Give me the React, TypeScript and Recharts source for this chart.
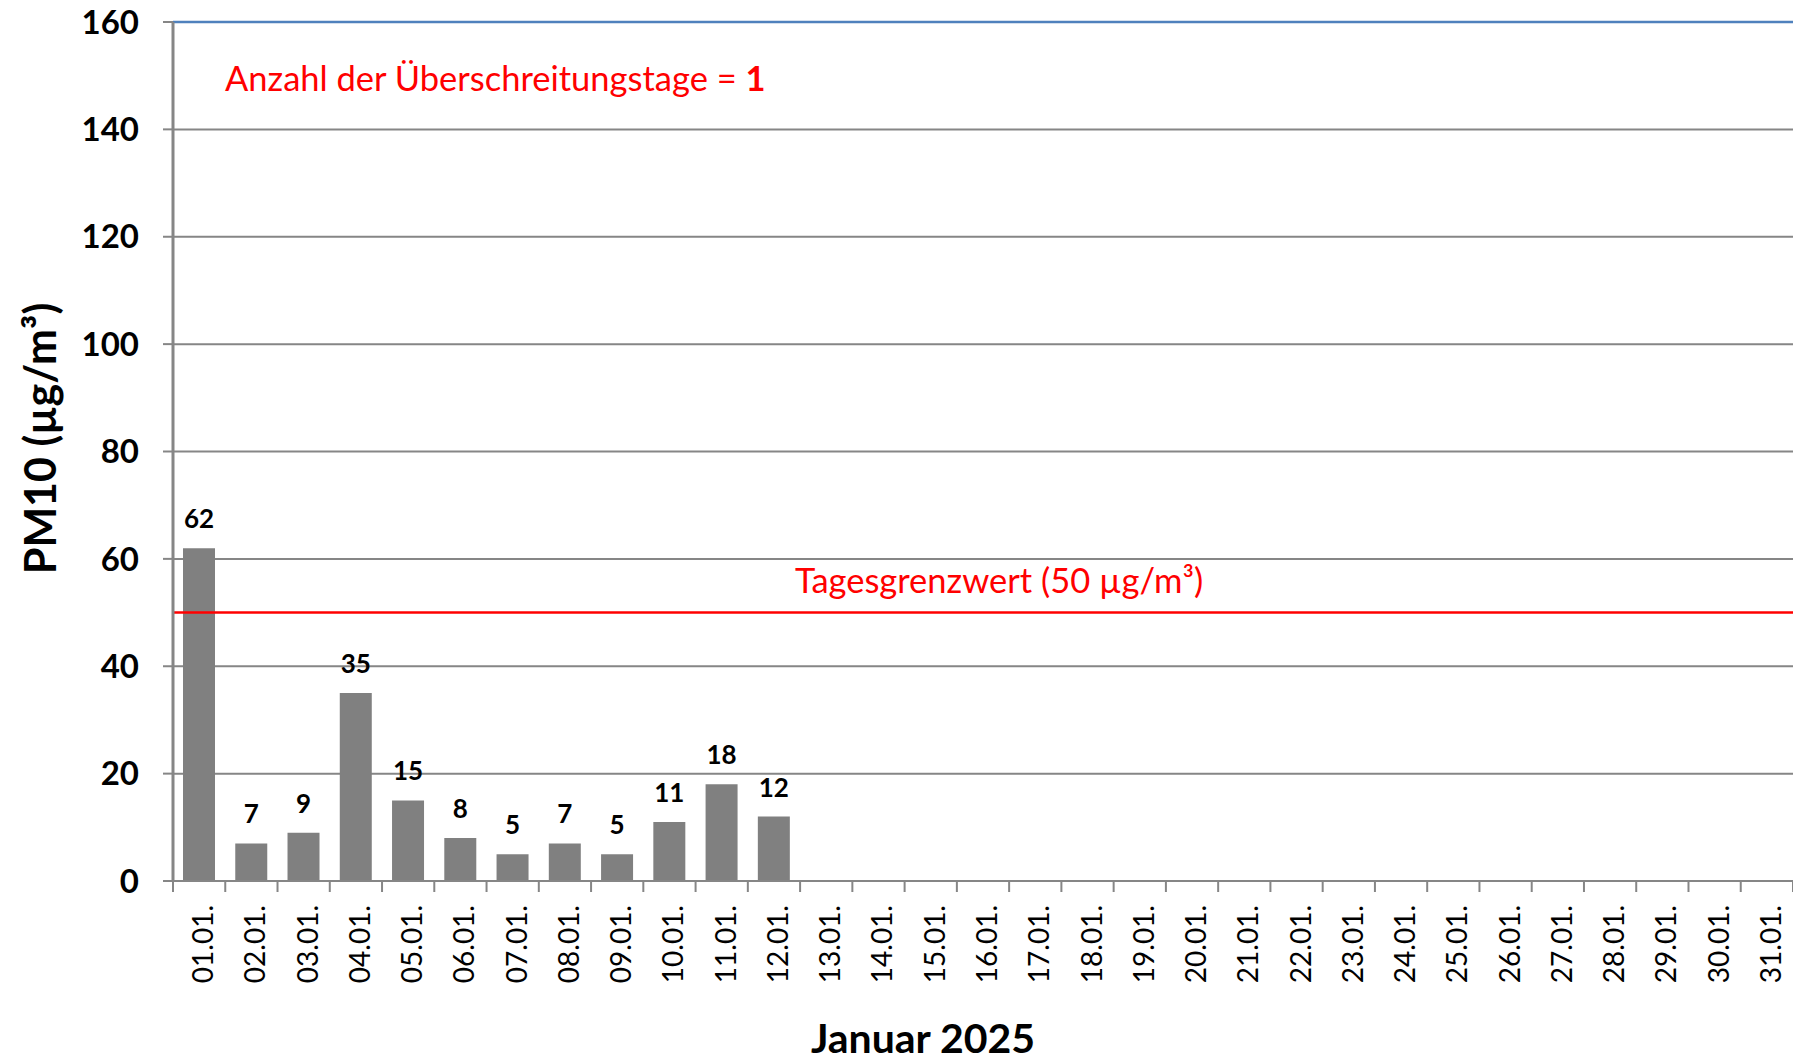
import React from 'react';
import {
  BarChart,
  Bar,
  XAxis,
  YAxis,
  CartesianGrid,
  ReferenceLine,
  LabelList,
} from 'recharts';

const days = [
  '01.01.', '02.01.', '03.01.', '04.01.', '05.01.', '06.01.', '07.01.', '08.01.',
  '09.01.', '10.01.', '11.01.', '12.01.', '13.01.', '14.01.', '15.01.', '16.01.',
  '17.01.', '18.01.', '19.01.', '20.01.', '21.01.', '22.01.', '23.01.', '24.01.',
  '25.01.', '26.01.', '27.01.', '28.01.', '29.01.', '30.01.', '31.01.',
];
const pm10: Array<number | null> = [
  62, 7, 9, 35, 15, 8, 5, 7, 5, 11, 18, 12,
  null, null, null, null, null, null, null, null, null, null, null, null,
  null, null, null, null, null, null, null,
];
const yTicks = [0, 20, 40, 60, 80, 100, 120, 140, 160];
const limitValue = 50;
const exceedDays = 1;

const data = days.map((day, i) => ({ day, pm10: pm10[i] }));

const FONT = 'Lato, "Open Sans", sans-serif';
const GRAY = '#868686';

const DayTick = (props: any) => {
  const { x, y, payload, index, width } = props;
  const band = (width || 1620) / days.length;
  const left = x - band / 2;
  return (
    <g>
      <line x1={left} y1={y} x2={left} y2={y + 11} stroke={GRAY} strokeWidth={2} />
      {index === days.length - 1 && (
        <line x1={x + band / 2} y1={y} x2={x + band / 2} y2={y + 11} stroke={GRAY} strokeWidth={2} />
      )}
      <text
        x={x + 3}
        y={y + 24}
        transform={`rotate(-90, ${x + 3}, ${y + 24})`}
        textAnchor="end"
        dominantBaseline="central"
        fontFamily={FONT}
        fontSize={28}
        fill="#000"
      >
        {payload.value}
      </text>
    </g>
  );
};

export default function App() {
  return (
    <div style={{ position: 'absolute', left: 0, top: 0, background: '#fff' }}>
      <BarChart
        width={1793}
        height={1064}
        data={data}
        margin={{ top: 22, right: 0, bottom: 13, left: 0 }}
        barSize={32}
      >
        <CartesianGrid vertical={false} stroke={GRAY} strokeWidth={2} />
        <XAxis
          dataKey="day"
          interval={0}
          height={170}
          tickLine={false}
          tickSize={0}
          tickMargin={0}
          axisLine={{ stroke: GRAY, strokeWidth: 2 }}
          tick={<DayTick />}
          label={{
            content: ({ viewBox }: any) => (
              <text
                x={viewBox.x + viewBox.width / 2 - 60}
                y={viewBox.y + 172}
                textAnchor="middle"
                fontFamily={FONT}
                fontWeight="bold"
                fontSize={41}
                fill="#000"
              >
                Januar 2025
              </text>
            ),
          }}
        />
        <YAxis
          width={173}
          domain={[0, 160]}
          ticks={yTicks}
          interval={0}
          tickSize={10}
          tickMargin={24}
          axisLine={{ stroke: GRAY, strokeWidth: 3 }}
          tickLine={{ stroke: GRAY, strokeWidth: 2 }}
          tick={{ fontFamily: FONT, fontWeight: 'bold', fontSize: 33, fill: '#000' }}
          label={{
            content: ({ viewBox }: any) => {
              const cx = 39;
              const cy = viewBox.y + viewBox.height / 2 - 13;
              return (
                <text
                  x={cx}
                  y={cy}
                  transform={`rotate(-90, ${cx}, ${cy})`}
                  textAnchor="middle"
                  dominantBaseline="central"
                  fontFamily={FONT}
                  fontWeight="bold"
                  fontSize={43}
                  fill="#000"
                >
                  PM10 (µg/m³)
                </text>
              );
            },
          }}
        />
        <Bar dataKey="pm10" fill="#808080" isAnimationActive={false}>
          <LabelList
            dataKey="pm10"
            position="top"
            offset={20}
            fontFamily={FONT}
            fontWeight="bold"
            fontSize={26}
            fill="#000"
          />
        </Bar>
        <ReferenceLine
          y={limitValue}
          stroke="#FF0000"
          strokeWidth={2.5}
          label={{
            content: ({ viewBox }: any) => (
              <text
                x={viewBox.x + 622}
                y={viewBox.y - 20}
                fontFamily={FONT}
                fontSize={34.5}
                fill="#FF0000"
              >
                Tagesgrenzwert (50 µg/m³)
              </text>
            ),
          }}
        />
        <ReferenceLine
          y={160}
          stroke="#4F81BD"
          strokeWidth={2.5}
          label={{
            content: ({ viewBox }: any) => (
              <text
                x={viewBox.x + 52}
                y={viewBox.y + 69}
                fontFamily={FONT}
                fontSize={34.5}
                fill="#FF0000"
              >
                Anzahl der Überschreitungstage ={' '}
                <tspan fontWeight="bold">{exceedDays}</tspan>
              </text>
            ),
          }}
        />
      </BarChart>
    </div>
  );
}
